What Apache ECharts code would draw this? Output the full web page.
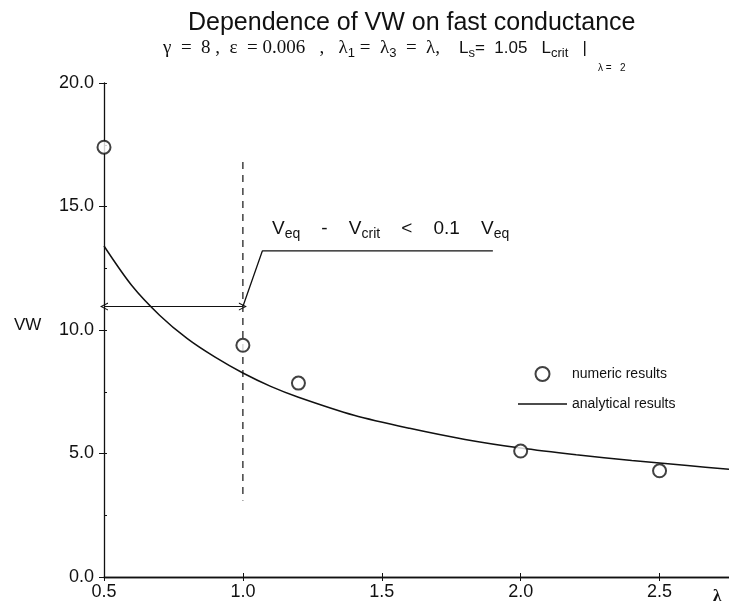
<!DOCTYPE html>
<html>
<head>
<meta charset="utf-8">
<script src="https://cdn.jsdelivr.net/npm/echarts@6/dist/echarts.min.js"></script>
<style>
html,body{margin:0;padding:0;background:#fff;}
#chart{width:729px;height:609px;}
</style>
</head>
<body>
<div id="chart"></div>
<script>
// ---- data ----
const xTickValues = [0.5, 1.0, 1.5, 2.0, 2.5];
const yTickValues = [0, 5, 10, 15, 20];
const numericLambda = [0.5, 1.0, 1.2, 2.0, 2.5];
const numericVW = [17.4, 9.38, 7.85, 5.1, 4.3];
const analyticLambda = [0.5, 0.6, 0.7, 0.8, 0.9, 1.0, 1.1, 1.2, 1.4, 1.6, 1.8, 2.0, 2.2, 2.4, 2.6, 2.75];
const analyticVW = [13.4, 11.8, 10.6, 9.65, 8.9, 8.26, 7.72, 7.28, 6.55, 6.02, 5.57, 5.22, 4.95, 4.72, 4.51, 4.36];
const dashLambda = [1.0, 1.0];
const dashVW = [16.8, 3.1];
const arrowLambda = [0.5, 1.0];
const arrowVW = [10.95, 10.95];
const rampLambda = [1.0, 1.07, 1.9];
const rampVW = [10.95, 13.2, 13.2];

const zip = (a, b) => a.map((v, i) => [v, b[i]]);
const fmt = v => (xTickValues.concat(yTickValues).some(t => Math.abs(t - v) < 1e-9)) ? v.toFixed(1) : '';

const chart = echarts.init(document.getElementById('chart'), null, {renderer: 'canvas'});
const SANS = 'Liberation Sans, Arial, Helvetica, sans-serif';
const SERIF = 'Liberation Serif, Times New Roman, serif';
const INK = '#111';

const chevron = 'path://M5,0 L10,10 L8.6,10 L5,2.8 L1.4,10 L0,10 Z';
const lineIcon = 'path://M0,0 L49,0 L49,1.3 L0,1.3 Z';

const option = {
  backgroundColor: '#fff',
  animation: false,
  title: {
    text: 'Dependence of VW on fast conductance',
    left: 183, top: 6,
    textStyle: {fontFamily: SANS, fontSize: 25, fontWeight: 'normal', color: INK}
  },
  grid: {left: 104, right: 0, top: 83, bottom: 32, containLabel: false},
  legend: {
    orient: 'vertical', left: 513, top: 361,
    itemWidth: 49, itemHeight: 14, itemGap: 15,
    textStyle: {fontFamily: SANS, fontSize: 14, color: INK},
    data: [
      {name: 'numeric results', icon: 'emptyCircle'},
      {name: 'analytical results', icon: lineIcon}
    ],
    selectedMode: false
  },
  xAxis: [{
    type: 'value', min: 0.5, max: 2.75, interval: 0.5,
    axisLine: {lineStyle: {color: INK, width: 1.3}},
    axisTick: {inside: true, length: 4, lineStyle: {color: INK}},
    axisLabel: {formatter: fmt, margin: 6, fontFamily: SANS, fontSize: 18, color: INK, showMaxLabel: false},
    splitLine: {show: false}
  }, {
    type: 'value', position: 'top', min: 0.5, max: 2.75, interval: 0.5,
    axisLine: {lineStyle: {color: INK, width: 1.3}},
    axisTick: {inside: true, length: 4, lineStyle: {color: INK}},
    axisLabel: {show: false},
    splitLine: {show: false}
  }],
  yAxis: [{
    type: 'value', min: 0, max: 20, interval: 5,
    axisLine: {show: true, lineStyle: {color: INK, width: 1.3}},
    axisTick: {show: true, inside: false, length: 5, lineStyle: {color: INK}},
    axisLabel: {formatter: fmt, margin: 10, fontFamily: SANS, fontSize: 18, color: INK},
    splitLine: {show: false}
  }, {
    type: 'value', position: 'left', min: 0, max: 20, interval: 2.5,
    axisLine: {show: false},
    axisTick: {show: true, inside: true, length: 3, lineStyle: {color: INK}},
    axisLabel: {show: false},
    splitLine: {show: false}
  }],
  series: [
    {
      name: 'analytical results', type: 'line', smooth: 0.3,
      data: zip(analyticLambda, analyticVW),
      showSymbol: false, symbol: 'none',
      lineStyle: {color: INK, width: 1.5},
      itemStyle: {color: INK},
      z: 3
    },
    {
      name: 'numeric results', type: 'scatter',
      data: zip(numericLambda, numericVW),
      symbol: 'emptyCircle', symbolSize: 13,
      itemStyle: {color: INK, borderColor: INK, borderWidth: 1.2},
      z: 4
    },
    {
      name: 'dash', type: 'line', data: zip(dashLambda, dashVW),
      symbol: 'none', lineStyle: {color: INK, width: 1.2, type: [7, 6]},
      silent: true
    },
    {
      name: 'ramp', type: 'line', data: zip(rampLambda, rampVW),
      symbol: 'none', lineStyle: {color: INK, width: 1.3},
      silent: true
    },
    {
      name: 'arrow', type: 'line', data: [], silent: true,
      markLine: {
        silent: true, animation: false,
        symbol: [chevron, chevron], symbolSize: [8, 8],
        label: {show: false},
        lineStyle: {color: INK, width: 1.2, type: 'solid'},
        data: [[{coord: [arrowLambda[0], arrowVW[0]]}, {coord: [arrowLambda[1], arrowVW[1]]}]]
      }
    }
  ],
  graphic: [
    {
      type: 'text', left: 163, top: 39,
      style: {
        text: '{g|γ  =  8 ,  ε  = 0.006   ,   λ}{s|1}{g| =  λ}{s|3}{g|  =  λ,}{a|    L}{s|s}{a|=  1.05   L}{s|crit}{a|   |}{ss|    λ =   2}',
        rich: {
          g: {fontFamily: SERIF, fontSize: 19, fill: INK},
          a: {fontFamily: SANS, fontSize: 17, fill: INK},
          s: {fontFamily: SANS, fontSize: 13, fill: INK, padding: [10, 0, 0, 0]},
          ss: {fontFamily: SANS, fontSize: 10, fill: INK, padding: [40, 0, 0, 0]}
        }
      }
    },
    {
      type: 'text', left: 272, top: 219,
      style: {
        text: '{v|V}{s|eq}{v|    -    V}{s|crit}{v|    <    0.1    V}{s|eq}',
        rich: {
          v: {fontFamily: SANS, fontSize: 19, fill: INK},
          s: {fontFamily: SANS, fontSize: 14, fill: INK, padding: [12, 0, 0, 0]}
        }
      }
    },
    {
      type: 'text', left: 14, top: 317,
      style: {text: 'VW', fontFamily: SANS, fontSize: 17, fill: INK}
    },
    {
      type: 'text', left: 713, top: 588,
      style: {text: 'λ', fontFamily: SERIF, fontSize: 17, fontWeight: 'bold', fill: INK}
    }
  ]
};
chart.setOption(option);
</script>
</body>
</html>
